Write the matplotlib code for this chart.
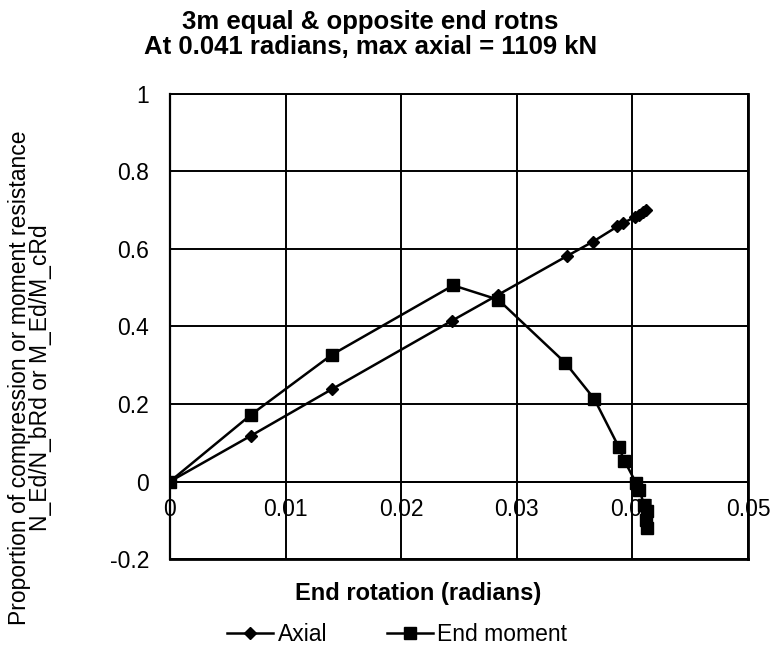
import matplotlib
matplotlib.use("Agg")
import matplotlib.pyplot as plt

plt.rcParams['font.family'] = ['Liberation Sans', 'DejaVu Sans']

# Data
axial_x = [0, 0.0070, 0.0140, 0.0244, 0.0284, 0.0343, 0.0366, 0.0387, 0.0392, 0.0402, 0.0406, 0.0409, 0.0412]
axial_y = [0, 0.118, 0.238, 0.415, 0.482, 0.581, 0.619, 0.658, 0.667, 0.682, 0.688, 0.694, 0.701]

moment_x = [0, 0.0070, 0.0140, 0.0245, 0.0284, 0.0342, 0.0367, 0.0388, 0.0393, 0.0403, 0.0406, 0.0410, 0.0413, 0.0412, 0.0413]
moment_y = [0, 0.172, 0.327, 0.506, 0.469, 0.306, 0.213, 0.090, 0.054, -0.003, -0.021, -0.060, -0.077, -0.099, -0.120]

xticks = [0, 0.01, 0.02, 0.03, 0.04, 0.05]
xtick_labels = ["0", "0.01", "0.02", "0.03", "0.04", "0.05"]
yticks = [-0.2, 0, 0.2, 0.4, 0.6, 0.8, 1]
ytick_labels = ["-0.2", "0", "0.2", "0.4", "0.6", "0.8", "1"]

fig = plt.figure(figsize=(7.76, 6.52), dpi=100)
ax = fig.add_axes([0.219, 0.1426, 0.745, 0.7134])

ax.plot(axial_x, axial_y, color="black", lw=1.8, marker="D", ms=6, label="Axial")
ax.plot(moment_x, moment_y, color="black", lw=1.8, marker="s", ms=9, label="End moment")

ax.set_xlim(0, 0.05)
ax.set_ylim(-0.2, 1)
ax.set_xticks(xticks, xtick_labels)
ax.set_yticks(yticks, ytick_labels)
ax.grid(color="black", lw=1.4)
ax.set_axisbelow(True)

# x axis crosses at zero, like the original
ax.spines['bottom'].set_position(('data', 0))
ax.spines['top'].set_visible(False)
ax.spines['right'].set_visible(False)
ax.spines['left'].set_visible(False)
for s in ax.spines.values():
    s.set_linewidth(1.4)
ax.tick_params(length=0, labelsize=16.5)
ax.tick_params(axis='y', pad=15)
ax.tick_params(axis='x', pad=12)
ax.axhline(1, color="black", lw=1.4, clip_on=False)
ax.axhline(-0.2, color="black", lw=2, clip_on=False)
ax.axvline(0.05, color="black", lw=2, clip_on=False)
ax.axvline(0, color="black", lw=1.6, clip_on=False)

ax.set_xlabel("End rotation (radians)", fontsize=17, fontweight="bold")
ax.xaxis.set_label_coords(0.429, -0.05)
ax.set_ylabel("Proportion of compression or moment resistance\nN_Ed/N_bRd or M_Ed/M_cRd",
              fontsize=16.5, linespacing=0.9)
ax.yaxis.set_label_coords(-0.204, 0.389)

fig.suptitle("3m equal & opposite end rotns\nAt 0.041 radians, max axial = 1109 kN",
             x=0.477, y=0.985, fontsize=18.5, fontweight="bold", linespacing=1.05)

fig.legend(loc="center", bbox_to_anchor=(0.512, 0.027), ncol=2, frameon=False,
           fontsize=16.5, handlelength=2.0, columnspacing=2.6, handletextpad=0.2)

fig.savefig("out.png", dpi=100)
